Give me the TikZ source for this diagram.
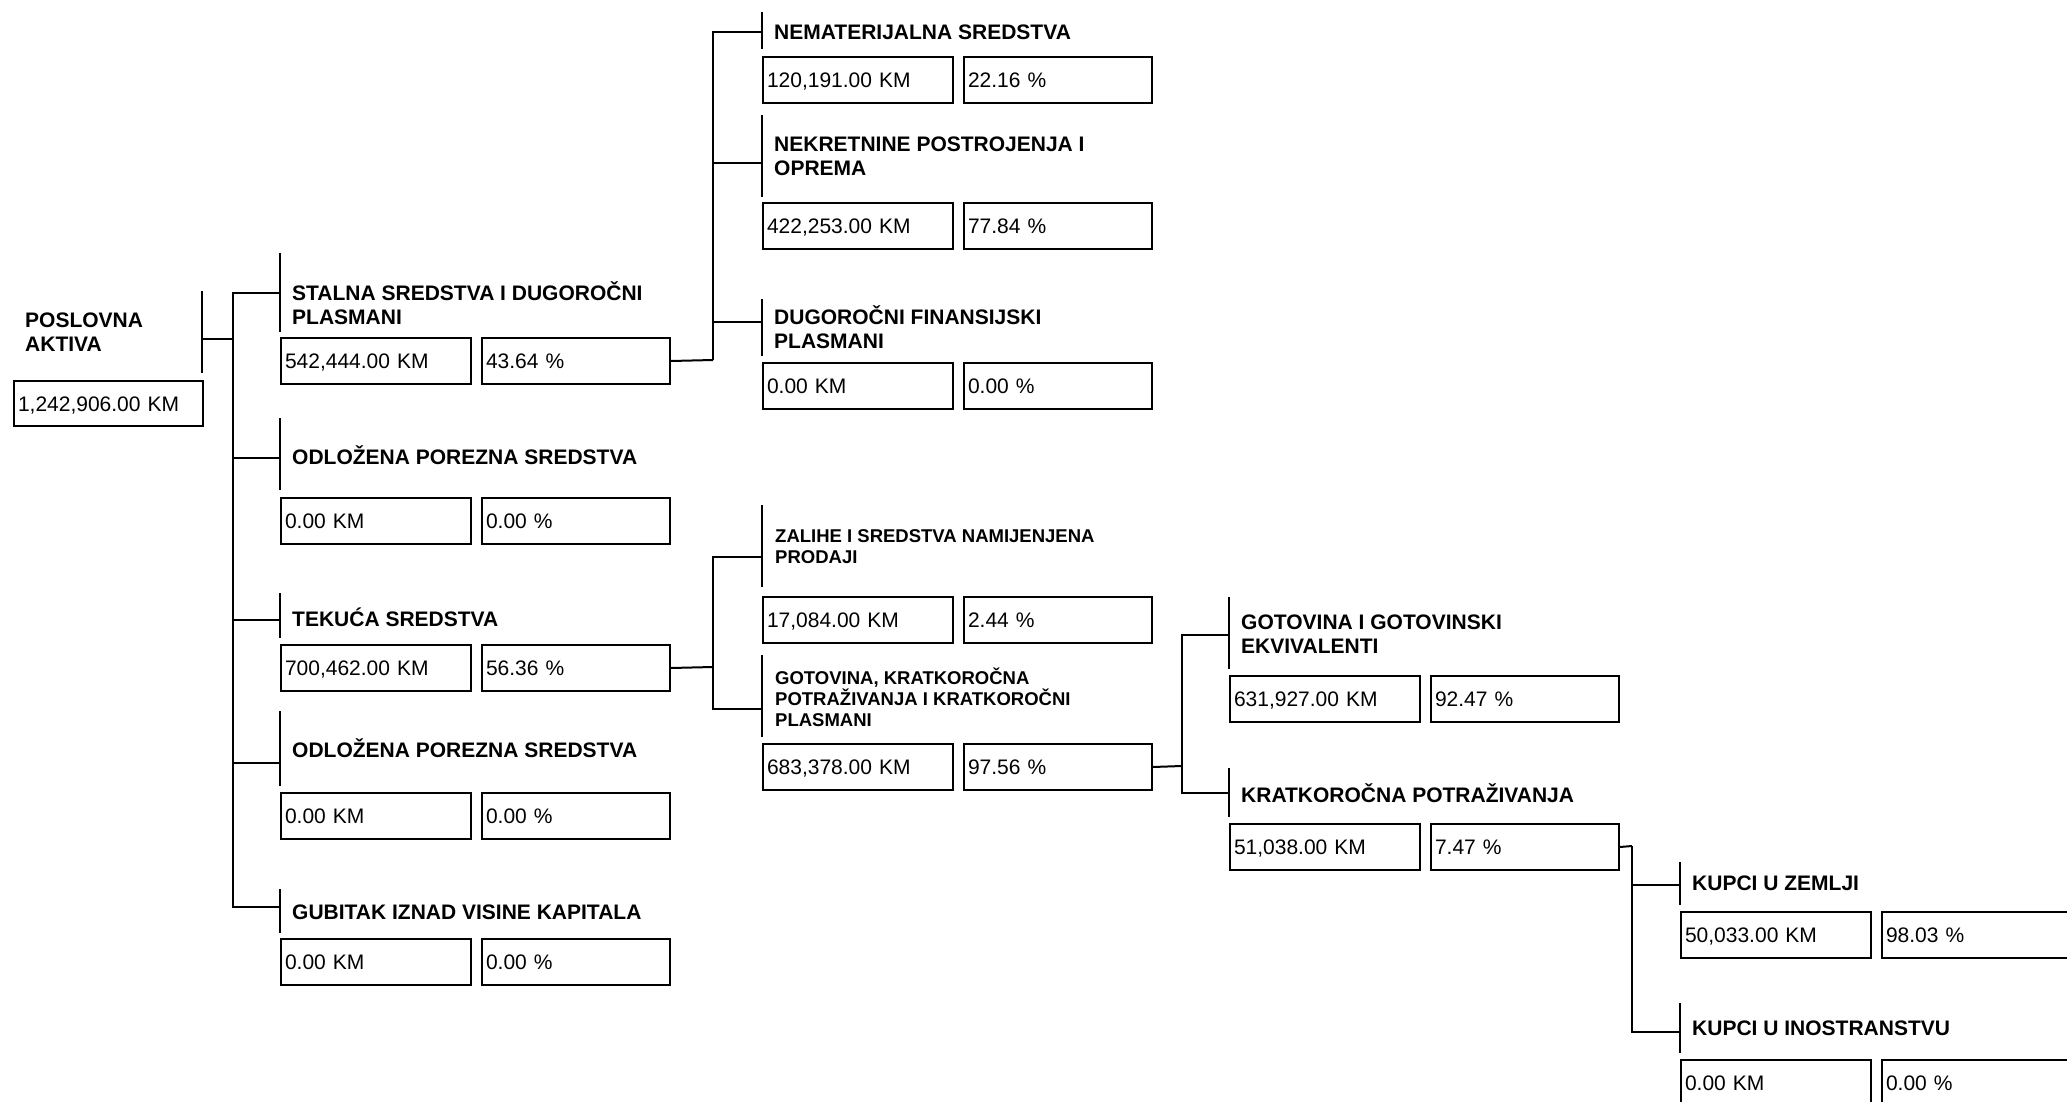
\documentclass[tikz,border=0pt]{standalone}
\usepackage{fontspec}
\setmainfont{Liberation Sans}
\usepackage{tikz}

\begin{document}
\begin{tikzpicture}[x=1pt,y=-1pt,
        line/.style={line width=2pt},
        lbl/.style={anchor=west,inner sep=0pt,align=left,font=\fontsize{21}{24}\selectfont\bfseries},
        lbls/.style={anchor=west,inner sep=0pt,align=left,font=\fontsize{18.5}{21}\selectfont\bfseries},
        kmbox/.style={draw,line width=2pt,anchor=north west,minimum height=46pt,inner sep=4pt,text width=182pt,text height=15pt,text depth=0pt,align=left,font=\fontsize{21}{24}\selectfont},
        pctbox/.style={kmbox,text width=180pt}]
        \useasboundingbox (0,0) rectangle (2067,1102);

        \node[lbl] (root-t) at (25,332) {POSLOVNA\\AKTIVA};
        \draw[line] (202,291) -- (202,373);
        \node[kmbox,text width=181pt,minimum height=45pt] (root-k) at (13,380) {1,242,906.00 KM};
        \coordinate (root-b) at (202,339);
        \coordinate (sp1) at (233,339);
        \draw[line] (root-b) -- (sp1);

        \coordinate (stalna-b) at (280,293);
        \draw[line] (280,253) -- (280,332);
        \node[lbl] (stalna-t) at (292,303) {STALNA SREDSTVA I DUGOROČNI\\PLASMANI};
        \node[kmbox] (stalna-k) at (280,337) {542,444.00 KM};
        \node[pctbox] (stalna-p) at (481,337) {43.64 \%};
        \draw[line] (sp1) |- (stalna-b);

        \coordinate (odl1-b) at (280,458);
        \draw[line] (280,418) -- (280,490);
        \node[lbl] (odl1-t) at (292,455) {ODLOŽENA POREZNA SREDSTVA};
        \node[kmbox] (odl1-k) at (280,497) {0.00 KM};
        \node[pctbox] (odl1-p) at (481,497) {0.00 \%};
        \draw[line] (sp1) |- (odl1-b);

        \coordinate (tek-b) at (280,620);
        \draw[line] (280,593) -- (280,638);
        \node[lbl] (tek-t) at (292,617) {TEKUĆA SREDSTVA};
        \node[kmbox] (tek-k) at (280,644) {700,462.00 KM};
        \node[pctbox] (tek-p) at (481,644) {56.36 \%};
        \draw[line] (sp1) |- (tek-b);

        \coordinate (odl2-b) at (280,763);
        \draw[line] (280,711) -- (280,786);
        \node[lbl] (odl2-t) at (292,748) {ODLOŽENA POREZNA SREDSTVA};
        \node[kmbox] (odl2-k) at (280,792) {0.00 KM};
        \node[pctbox] (odl2-p) at (481,792) {0.00 \%};
        \draw[line] (sp1) |- (odl2-b);

        \coordinate (gub-b) at (280,907);
        \draw[line] (280,889) -- (280,933);
        \node[lbl] (gub-t) at (292,912) {GUBITAK IZNAD VISINE KAPITALA};
        \node[kmbox] (gub-k) at (280,938) {0.00 KM};
        \node[pctbox] (gub-p) at (481,938) {0.00 \%};
        \draw[line] (sp1) |- (gub-b);

        \coordinate (sp2) at (713,360);
        \draw[line] (stalna-p.east) -- (sp2);

        \coordinate (nemat-b) at (762,32);
        \draw[line] (762,12) -- (762,49);
        \node[lbl] (nemat-t) at (774,32) {NEMATERIJALNA SREDSTVA};
        \node[kmbox] (nemat-k) at (762,56) {120,191.00 KM};
        \node[pctbox] (nemat-p) at (963,56) {22.16 \%};
        \draw[line] (sp2) |- (nemat-b);

        \coordinate (nekr-b) at (762,163);
        \draw[line] (762,115) -- (762,197);
        \node[lbl] (nekr-t) at (774,156) {NEKRETNINE POSTROJENJA I\\OPREMA};
        \node[kmbox] (nekr-k) at (762,202) {422,253.00 KM};
        \node[pctbox] (nekr-p) at (963,202) {77.84 \%};
        \draw[line] (sp2) |- (nekr-b);

        \coordinate (dug-b) at (762,322);
        \draw[line] (762,299) -- (762,356);
        \node[lbl] (dug-t) at (774,327) {DUGOROČNI FINANSIJSKI\\PLASMANI};
        \node[kmbox] (dug-k) at (762,362) {0.00 KM};
        \node[pctbox] (dug-p) at (963,362) {0.00 \%};
        \draw[line] (sp2) |- (dug-b);

        \coordinate (sp3) at (713,667);
        \draw[line] (tek-p.east) -- (sp3);

        \coordinate (zal-b) at (762,557);
        \draw[line] (762,505) -- (762,587);
        \node[lbls] (zal-t) at (775,547) {ZALIHE I SREDSTVA NAMIJENJENA\\PRODAJI};
        \node[kmbox] (zal-k) at (762,596) {17,084.00 KM};
        \node[pctbox] (zal-p) at (963,596) {2.44 \%};
        \draw[line] (sp3) |- (zal-b);

        \coordinate (gotk-b) at (762,709);
        \draw[line] (762,655) -- (762,737);
        \node[lbls] (gotk-t) at (775,697) {GOTOVINA, KRATKOROČNA\\POTRAŽIVANJA I KRATKOROČNI\\PLASMANI};
        \node[kmbox] (gotk-k) at (762,743) {683,378.00 KM};
        \node[pctbox] (gotk-p) at (963,743) {97.56 \%};
        \draw[line] (sp3) |- (gotk-b);

        \coordinate (sp4) at (1182,766);
        \draw[line] (gotk-p.east) -- (sp4);

        \coordinate (gotg-b) at (1229,635);
        \draw[line] (1229,597) -- (1229,669);
        \node[lbl] (gotg-t) at (1241,634) {GOTOVINA I GOTOVINSKI\\EKVIVALENTI};
        \node[kmbox] (gotg-k) at (1229,675) {631,927.00 KM};
        \node[pctbox] (gotg-p) at (1430,675) {92.47 \%};
        \draw[line] (sp4) |- (gotg-b);

        \coordinate (krat-b) at (1229,793);
        \draw[line] (1229,768) -- (1229,817);
        \node[lbl] (krat-t) at (1241,793) {KRATKOROČNA POTRAŽIVANJA};
        \node[kmbox] (krat-k) at (1229,823) {51,038.00 KM};
        \node[pctbox] (krat-p) at (1430,823) {7.47 \%};
        \draw[line] (sp4) |- (krat-b);

        \coordinate (sp5) at (1632,846);
        \draw[line] (krat-p.east) -- (sp5);

        \coordinate (kupz-b) at (1680,885);
        \draw[line] (1680,862) -- (1680,905);
        \node[lbl] (kupz-t) at (1692,883) {KUPCI U ZEMLJI};
        \node[kmbox] (kupz-k) at (1680,911) {50,033.00 KM};
        \node[pctbox] (kupz-p) at (1881,911) {98.03 \%};
        \draw[line] (sp5) |- (kupz-b);

        \coordinate (kupi-b) at (1680,1032);
        \draw[line] (1680,1003) -- (1680,1053);
        \node[lbl] (kupi-t) at (1692,1028) {KUPCI U INOSTRANSTVU};
        \node[kmbox] (kupi-k) at (1680,1059) {0.00 KM};
        \node[pctbox] (kupi-p) at (1881,1059) {0.00 \%};
        \draw[line] (sp5) |- (kupi-b);
    \end{tikzpicture}
\end{document}
